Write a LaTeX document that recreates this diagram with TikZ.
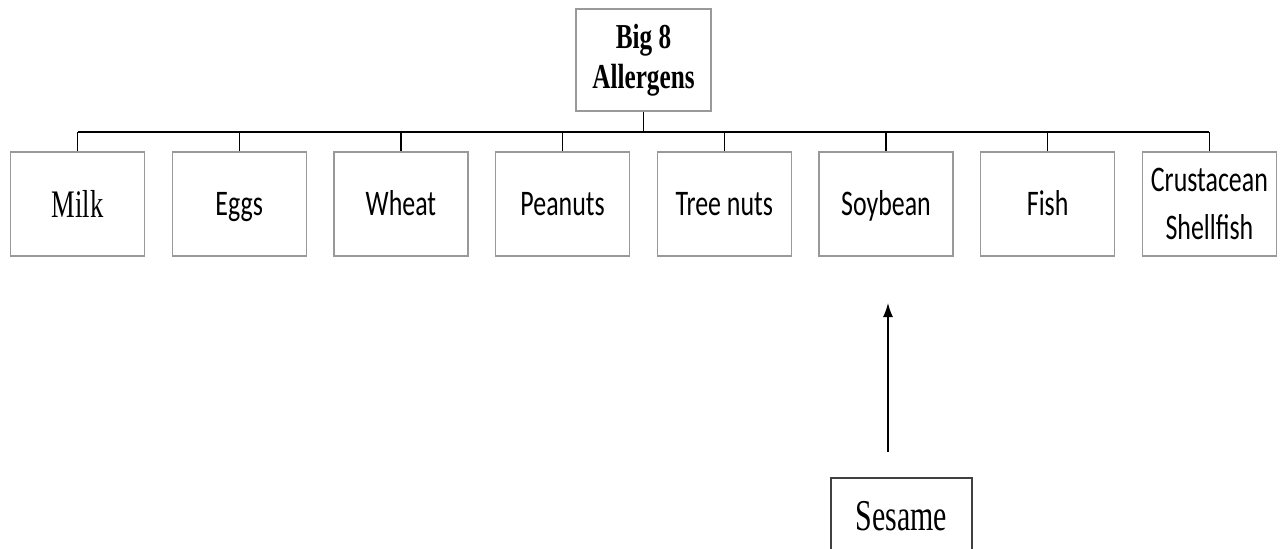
\documentclass[tikz,border=0pt]{standalone}
\usepackage{fontspec}
\usetikzlibrary{arrows.meta}
\newfontfamily\serifcond[FakeStretch=0.68]{Liberation Serif}
\newfontfamily\serifboldcond[FakeStretch=0.72]{Liberation Serif Bold}
\newfontfamily\calcond[FakeStretch=0.72]{Carlito}
\begin{document}
\begin{tikzpicture}[x=1pt,y=-1pt,
  childbox/.style={draw=black!40,line width=1.2pt,minimum width=134pt,minimum height=104pt,inner sep=0pt,align=center},
  calitext/.style={font=\calcond\fontsize{36}{48}\selectfont},
  calione/.style={calitext,text height=32pt,text depth=9pt},
  seriftext/.style={font=\serifcond\fontsize{39}{46}\selectfont,text height=34pt,text depth=8pt},
  conn/.style={draw=black,line width=1.4pt}]
\useasboundingbox (0,0) rectangle (1286,549);
\node[childbox,minimum width=135pt,minimum height=102pt,font=\serifboldcond\fontsize{35}{40}\selectfont] (root) at (643.5,60) {Big 8\\Allergens};
\node[childbox,seriftext] (milk) at (77.5,204) {Milk};
\node[childbox,calione] (eggs) at (239.2,204) {Eggs};
\node[childbox,calione] (wheat) at (400.9,204) {Wheat};
\node[childbox,calione] (peanuts) at (562.6,204) {Peanuts};
\node[childbox,calione] (treenuts) at (724.3,204) {Tree nuts};
\node[childbox,calione] (soybean) at (886,204) {Soybean};
\node[childbox,calione] (fish) at (1047.7,204) {Fish};
\node[childbox,calitext] (crust) at (1209.4,204) {Crustacean\\Shellfish};
\coordinate (barL) at (77.5,132);
\coordinate (barR) at (1209.4,132);
\draw[conn] (barL) -- (barR);
\draw[conn] (root.south) -- (root.south |- barL);
\foreach \n in {milk,eggs,wheat,peanuts,treenuts,soybean,fish,crust}{
  \draw[conn] (\n.north |- barL) -- (\n.north);
}
\node[draw=black!75,line width=1.4pt,minimum width=141pt,minimum height=76pt,inner sep=0pt,font=\serifcond\fontsize{44}{50}\selectfont] (sesame) at (901.5,516) {Sesame};
\coordinate (arrowtail) at (888,452);
\coordinate (arrowtip) at (888,303);
\draw[conn,-{Latex[length=14pt,width=10pt]}] (arrowtail) -- (arrowtip);
\end{tikzpicture}
\end{document}
